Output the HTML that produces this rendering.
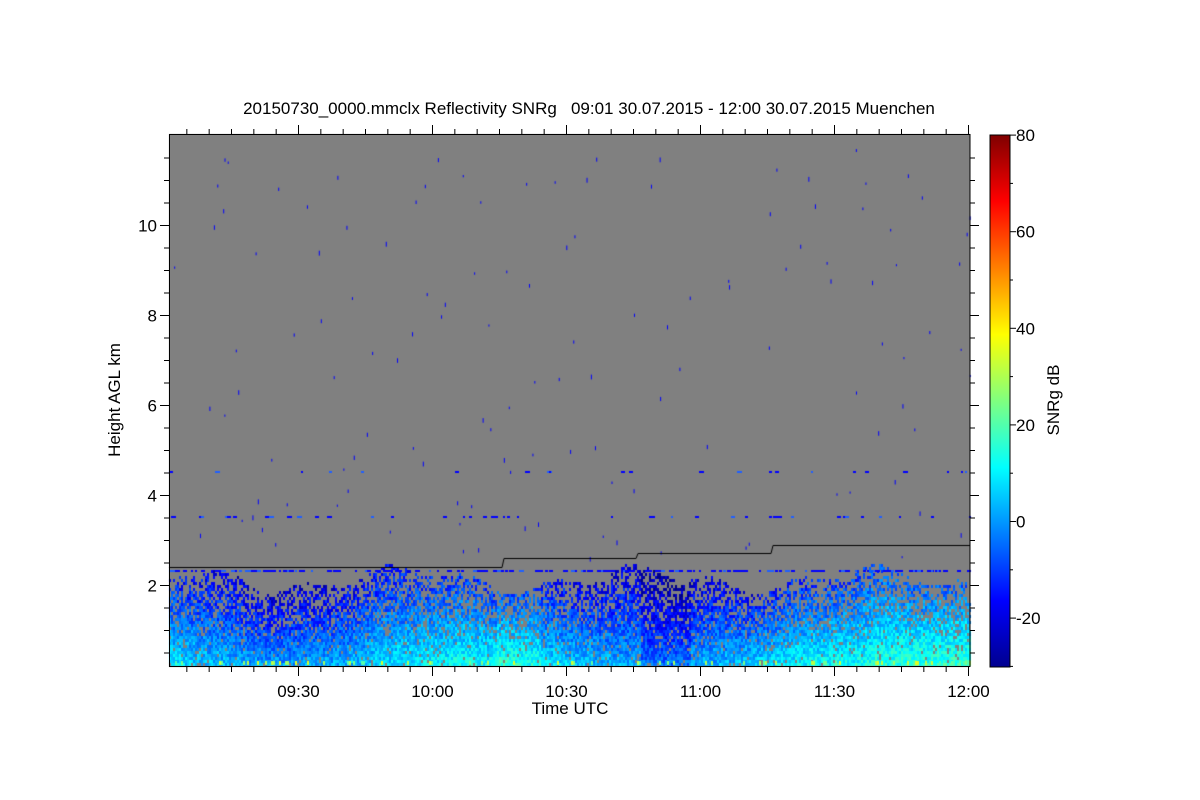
<!DOCTYPE html>
<html><head><meta charset="utf-8"><style>
body{margin:0;background:#fff;width:1200px;height:800px;overflow:hidden;position:relative;font-family:"Liberation Sans",sans-serif}
canvas,svg{position:absolute;left:0;top:0}
</style></head><body>
<canvas id="c" width="1200" height="800"></canvas>
<svg id="s" width="1200" height="800" xmlns="http://www.w3.org/2000/svg" font-family="Liberation Sans, sans-serif">
<defs><linearGradient id="jet" x1="0" y1="1" x2="0" y2="0">
<stop offset="0" stop-color="#00008f"/><stop offset="0.125" stop-color="#0000ff"/><stop offset="0.375" stop-color="#00ffff"/><stop offset="0.625" stop-color="#ffff00"/><stop offset="0.875" stop-color="#ff0000"/><stop offset="1" stop-color="#800000"/></linearGradient></defs>
<text x="589" y="114" font-size="17" text-anchor="middle" xml:space="preserve" style="white-space:pre">20150730_0000.mmclx Reflectivity SNRg   09:01 30.07.2015 - 12:00 30.07.2015 Muenchen</text>
<rect x="990" y="135" width="20" height="532" fill="url(#jet)" stroke="#000" stroke-width="1"/>
<g id="ax" stroke="#000" stroke-width="1" fill="none"></g>
<g font-size="17" id="lab"></g>
<text x="570" y="714" font-size="17" text-anchor="middle">Time UTC</text>
<text transform="translate(120,400) rotate(-90)" font-size="17" text-anchor="middle">Height AGL km</text>
<text transform="translate(1059,400) rotate(-90)" font-size="17" text-anchor="middle">SNRg dB</text>
</svg>
<script>
(function(){
var c=document.getElementById('c').getContext('2d');
var L=169,R=970,T=134,B=667;
c.fillStyle='#808080';c.fillRect(L,T,R-L,B-T);
var seed=7;function rnd(){seed=(seed*16807)%2147483647;return seed/2147483647;}
function jet(v){v=Math.max(0,Math.min(1,v));var r=Math.min(4*v-1.5,-4*v+4.5),g=Math.min(4*v-0.5,-4*v+3.5),b=Math.min(4*v+0.5,-4*v+2.5);
return 'rgb('+[r,g,b].map(function(x){return Math.round(255*Math.max(0,Math.min(1,x)))}).join(',')+')';}
// lower boundary layer
for(var x=L;x<R;x+=2){
 var tp=578+10*Math.sin(x/37)+6*Math.sin(x/13);
 var boost=0.05*Math.sin(x/60)+(x>850?0.12*(x-850)/120:0)+(x>495&&x<540?0.04:0)-(x>640&&x<690?0.05:0);
 for(var y=B-4;y>tp;y-=3){
  var f=(B-y)/(B-tp);
  if(rnd()<0.05+0.6*f*f) continue;
  var v=0.34-0.22*f+boost+0.12*(rnd()-0.5);
  c.fillStyle=jet(v);c.fillRect(x,y,2,3);
 }
 if(rnd()<0.15){c.fillStyle=jet(0.45+rnd()*0.15);c.fillRect(x,B-6,2,4);}
}
// scattered speckles
for(var i=0;i<130;i++){var xx=L+rnd()*(R-L),yy=T+rnd()*(560-T);c.fillStyle='#0000ff';c.fillRect(xx,yy,1,2+rnd()*3);}
// horizontal bands
function band(y,d){for(var x=L;x<R;x+=2){if(rnd()<d){c.fillStyle=rnd()<0.7?'#0000ff':'#1f5fff';c.fillRect(x,y,2+Math.floor(rnd()*4),2);}}}
band(471,0.06);band(516,0.12);band(570,0.4);
// black line
c.strokeStyle='#000';c.lineWidth=1;c.beginPath();
c.moveTo(L,567.5);c.lineTo(502,567.5);c.lineTo(504,558.5);c.lineTo(636,558.5);c.lineTo(638,553.5);c.lineTo(771,553.5);c.lineTo(773,545.5);c.lineTo(R,545.5);c.stroke();
// axes
var ax=document.getElementById('ax'),lab=document.getElementById('lab'),ns='http://www.w3.org/2000/svg';
function ln(a,b,cc,d){var l=document.createElementNS(ns,'line');l.setAttribute('x1',a);l.setAttribute('y1',b);l.setAttribute('x2',cc);l.setAttribute('y2',d);ax.appendChild(l);}
function tx(x,y,s,an){var t=document.createElementNS(ns,'text');t.setAttribute('x',x);t.setAttribute('y',y);t.setAttribute('text-anchor',an);t.textContent=s;lab.appendChild(t);}
var r=document.createElementNS(ns,'rect');r.setAttribute('x',169.5);r.setAttribute('y',134.5);r.setAttribute('width',800.5);r.setAttribute('height',532);ax.appendChild(r);
for(var k=0;k<24;k++){var h=k*0.5;var y=675-45*h+0.5;if(y<T||y>B)continue;var big=(k%4==0);var len=big?9:5;
 ln(169,y,169-len,y);ln(970,y,970+len,y);if(big)tx(157,y+6,String(h),'end');}
var names=['09:30','10:00','10:30','11:00','11:30','12:00'];
for(var m=-5;m<=36;m++){var x=298+m*134/6+0.5;if(x<L||x>R+1)continue;var big=(m%6==0);var len=big?9:5;
 ln(x,667,x,667+len);ln(x,134,x,134-len);if(big)tx(x,697,names[m/6],'middle');}
for(var v=-20;v<=80;v+=20){var y=521-v*4.83+0.5;ln(1010,y,1016,y);tx(1016,y+6,String(v),'start');}
for(var v=-30;v<=80;v+=10){var y=521-v*4.83+0.5;if(v%20)ln(1010,y,1013,y);}
})();
</script>
</body></html>
